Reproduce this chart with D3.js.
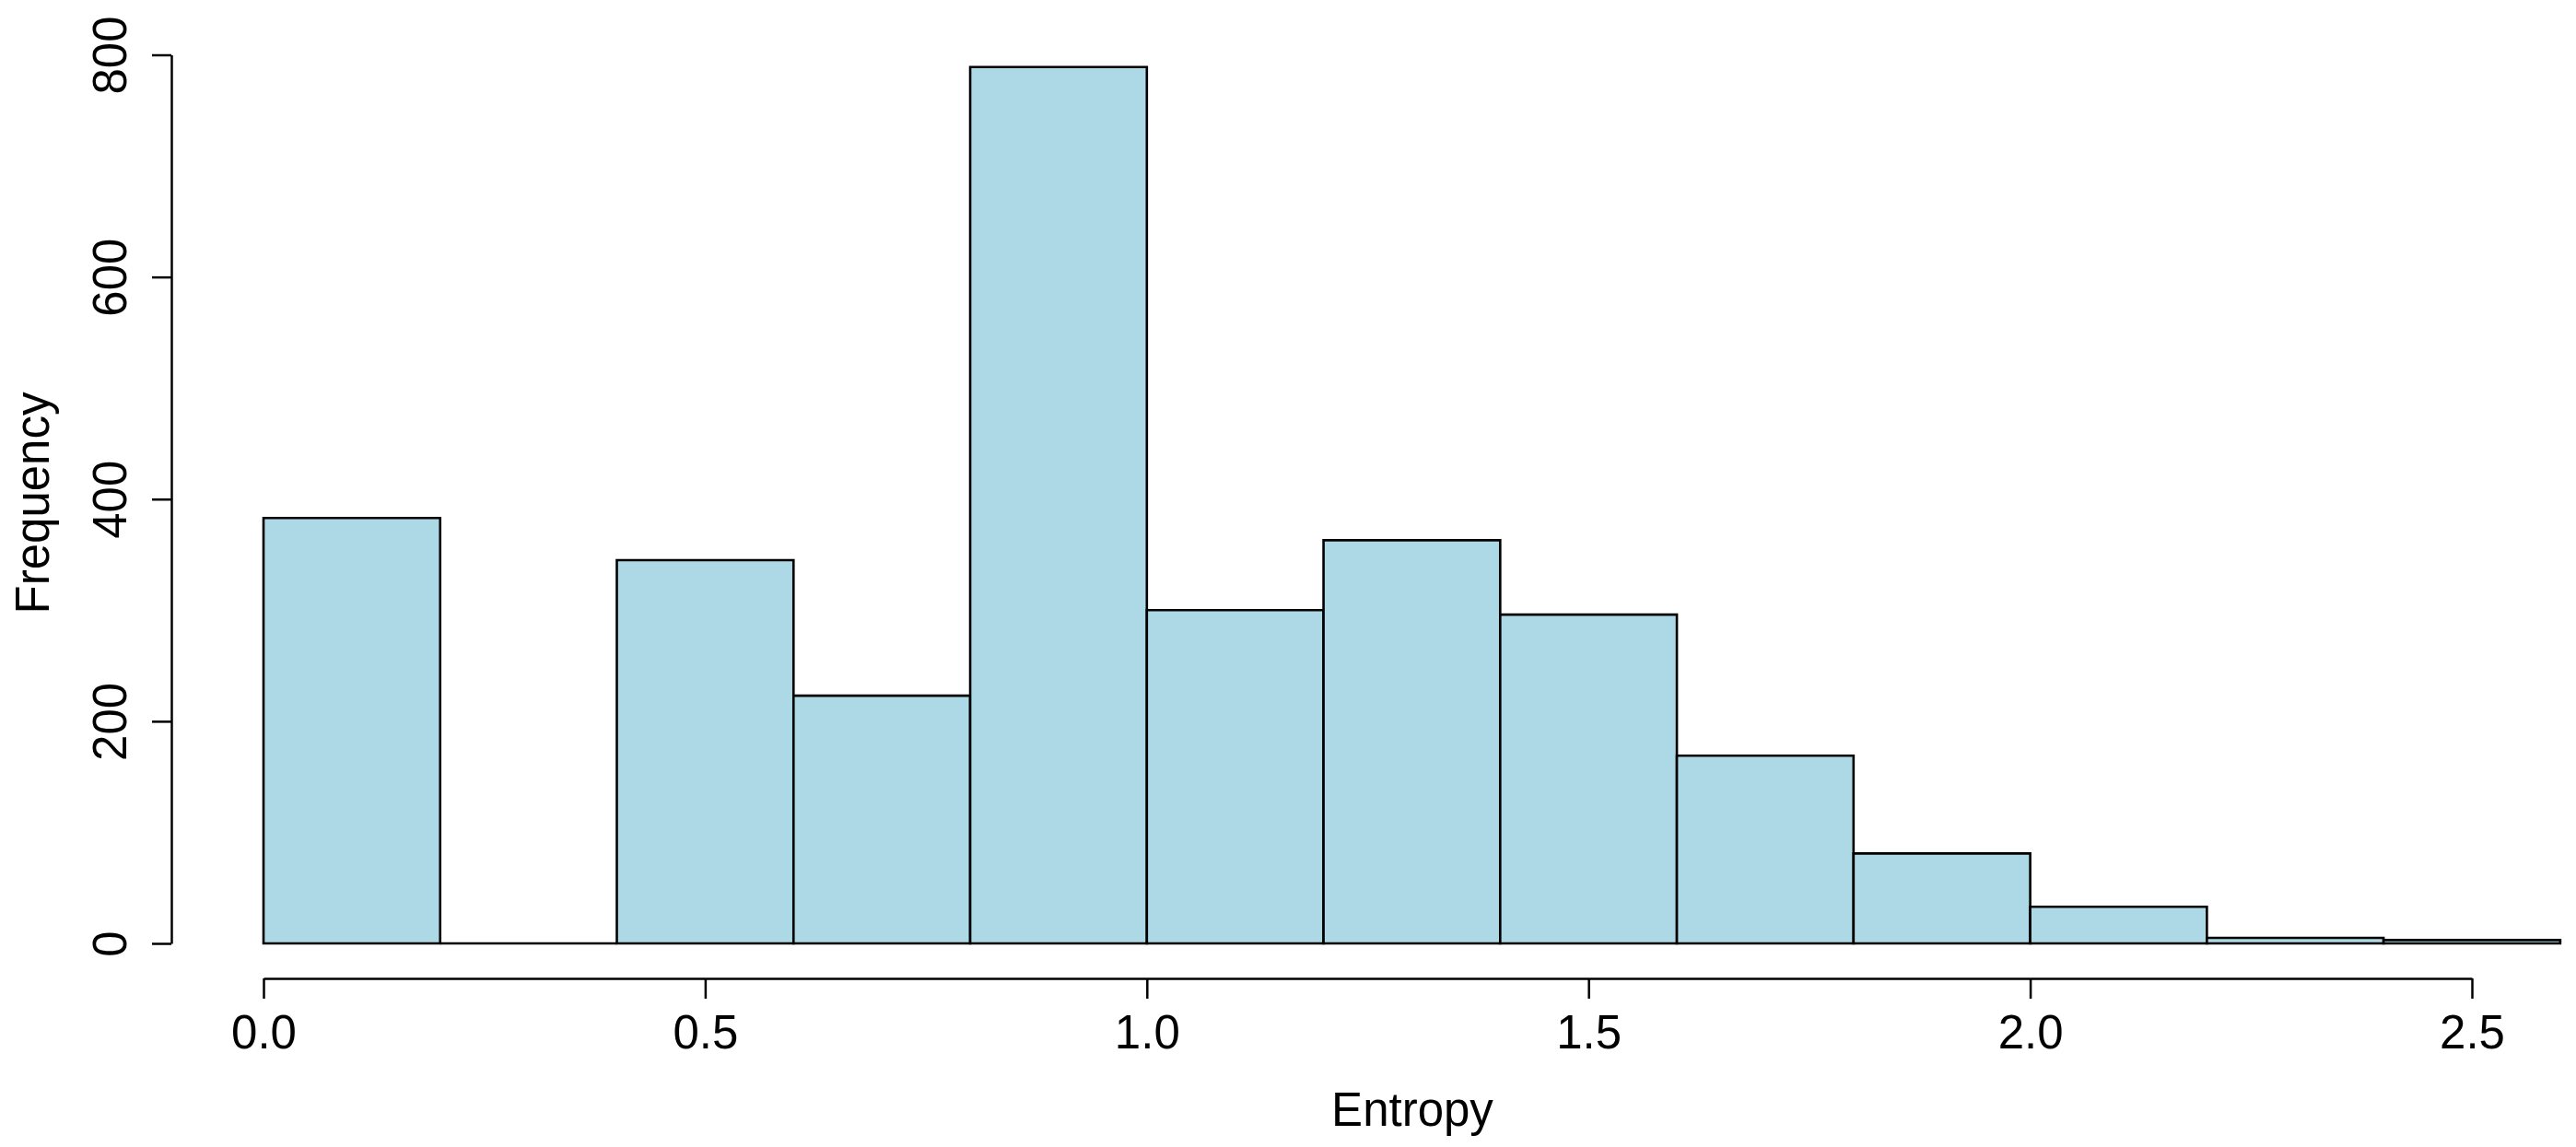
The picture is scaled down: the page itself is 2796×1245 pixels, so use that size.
<!DOCTYPE html>
<html>
<head>
<meta charset="utf-8">
<script src="https://cdn.jsdelivr.net/npm/d3@7"></script>
<style>
  html, body { margin: 0; padding: 0; background: #ffffff; }
  svg { display: block; }
  text { font-family: "Liberation Sans", Arial, Helvetica, sans-serif; fill: #000; }
</style>
</head>
<body>
<svg id="chart" width="2796" height="1245"></svg>
<script>
// ---- data ----
const breaks = [0.0, 0.2, 0.4, 0.6, 0.8, 1.0, 1.2, 1.4, 1.6, 1.8, 2.0, 2.2, 2.4, 2.6];
const counts = [383, 0, 345, 223, 789, 300, 363, 296, 169, 81, 33, 5, 3];
const xTicks = [0.0, 0.5, 1.0, 1.5, 2.0, 2.5];
const yTicks = [0, 200, 400, 600, 800];
const xLabel = "Entropy";
const yLabel = "Frequency";

// ---- layout ----
const svg = d3.select("#chart");
const x = d3.scaleLinear().domain([0, 2.5]).range([286, 2683]);
const y = d3.scaleLinear().domain([0, 800]).range([1024, 59.5]);
const fontSize = 51;

const bins = counts.map((c, i) => ({ x0: breaks[i], x1: breaks[i + 1], count: c }));

// bars (drawn as closed paths so zero-height bins still show their line)
svg.append("g")
  .selectAll("path")
  .data(bins)
  .join("path")
  .attr("d", d => {
    const x0 = x(d.x0), x1 = x(d.x1), y0 = y(0), y1 = y(d.count);
    return `M${x0},${y0}L${x0},${y1}L${x1},${y1}L${x1},${y0}Z`;
  })
  .attr("fill", "#add8e6")
  .attr("stroke", "#000")
  .attr("stroke-width", 2.6);

// x axis
const xAxisY = 1062;
const gx = svg.append("g")
  .attr("transform", `translate(0,${xAxisY})`)
  .call(d3.axisBottom(x).tickValues(xTicks).tickSize(22).tickSizeOuter(0).tickFormat(d3.format(".1f")));
gx.select(".domain").attr("stroke", "#000").attr("stroke-width", 2.5);
gx.selectAll(".tick line").attr("stroke", "#000").attr("stroke-width", 2.5);
gx.selectAll(".tick text")
  .attr("y", 76).attr("dy", 0)
  .attr("font-size", fontSize)
  .attr("font-family", "Liberation Sans, Arial, sans-serif")
  .attr("fill", "#000");

// y axis
const yAxisX = 186;
const gy = svg.append("g")
  .attr("transform", `translate(${yAxisX},0)`)
  .call(d3.axisLeft(y).tickValues(yTicks).tickSize(21).tickSizeOuter(0).tickFormat(d3.format("d")));
gy.select(".domain").attr("stroke", "#000").attr("stroke-width", 2.5);
gy.selectAll(".tick line").attr("stroke", "#000").attr("stroke-width", 2.5);
gy.selectAll(".tick text")
  .attr("x", 0).attr("y", 0).attr("dy", 0)
  .attr("text-anchor", "middle")
  .attr("transform", "translate(-49,0) rotate(-90)")
  .attr("font-size", fontSize)
  .attr("font-family", "Liberation Sans, Arial, sans-serif")
  .attr("fill", "#000");

// axis titles
svg.append("text")
  .attr("x", 1533).attr("y", 1222)
  .attr("text-anchor", "middle")
  .attr("font-size", fontSize)
  .text(xLabel);

svg.append("text")
  .attr("transform", "translate(53,546) rotate(-90)")
  .attr("text-anchor", "middle")
  .attr("font-size", fontSize)
  .text(yLabel);
</script>
</body>
</html>
